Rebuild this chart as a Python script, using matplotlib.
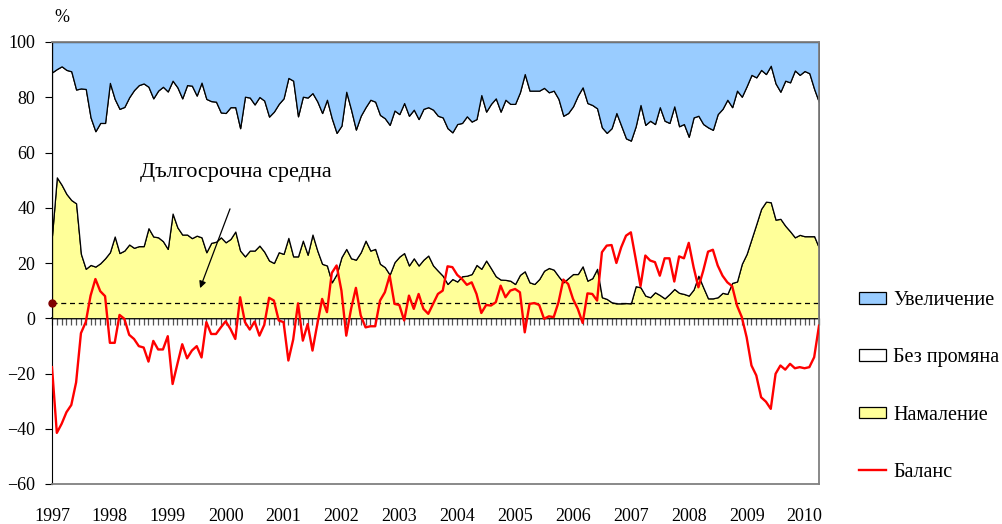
import numpy as np
import matplotlib
matplotlib.use("Agg")
import matplotlib.pyplot as plt
from matplotlib.patches import Patch
from matplotlib.lines import Line2D

plt.rcParams["font.family"] = ["Liberation Serif", "DejaVu Serif"]

# monthly data, Jan 1997 - Apr 2010 (160 months)
years = list(range(1997, 2011))

increase = [
    11.0, 9.8, 8.8, 10.1, 10.6, 17.2, 16.8, 17.0, 27.3, 32.3, 29.3, 29.3,
    14.8, 20.6, 24.2, 23.5, 20.0, 17.4, 15.6, 15.0, 16.2, 20.4, 17.6, 16.2,
    17.9, 14.0, 16.4, 20.4, 15.6, 15.8, 19.4, 14.7, 20.6, 21.4, 21.6, 25.5,
    25.7, 23.6, 23.6, 31.2, 19.8, 20.1, 22.6, 19.9, 21.2, 27.0, 25.2, 22.4,
    20.4, 13.0, 14.0, 26.9, 19.8, 20.1, 18.5, 21.5, 25.7, 20.9, 27.6, 32.9,
    30.3, 18.0, 24.5, 31.7, 26.7, 23.6, 20.9, 21.6, 26.4, 27.6, 30.0, 24.8,
    26.1, 22.1, 26.7, 24.5, 27.9, 24.2, 23.6, 24.5, 26.7, 27.3, 31.2, 32.7,
    29.7, 29.3, 26.9, 28.8, 27.9, 19.2, 25.2, 22.4, 20.4, 25.2, 20.9, 22.4,
    22.4, 18.2, 11.6, 17.6, 17.6, 17.6, 16.6, 18.2, 17.6, 20.6, 26.7, 25.7,
    23.3, 19.4, 16.4, 22.1, 22.8, 24.0, 30.9, 32.9, 31.2, 25.7, 30.3, 34.9,
    35.7, 30.5, 22.8, 30.0, 28.5, 29.7, 23.6, 28.5, 29.3, 23.3, 30.5, 29.7,
    34.3, 27.3, 26.7, 29.7, 30.9, 31.8, 26.1, 24.2, 20.9, 23.6, 17.6, 19.8,
    16.0, 11.9, 12.8, 10.1, 11.6, 8.6, 15.0, 18.0, 14.0, 14.6, 10.3, 11.9,
    10.5, 11.3, 17.0, 21.8,
]

decrease = [
    29.9, 51.0, 48.3, 45.0, 42.8, 41.6, 23.3, 17.9, 19.3, 18.7, 19.9, 21.7,
    23.9, 29.6, 23.6, 24.5, 26.7, 25.5, 26.1, 26.1, 32.6, 29.6, 29.3, 27.9,
    25.1, 37.9, 32.9, 30.3, 30.3, 29.0, 29.9, 29.3, 23.9, 27.3, 27.7, 29.3,
    27.5, 28.7, 31.4, 24.5, 22.4, 24.5, 24.5, 26.3, 24.1, 20.9, 20.0, 23.9,
    23.3, 29.1, 22.4, 22.4, 28.1, 23.0, 30.3, 24.5, 19.7, 19.1, 13.0, 16.0,
    22.1, 25.1, 21.7, 21.2, 23.9, 28.1, 24.5, 25.1, 19.7, 18.5, 15.8, 20.3,
    22.3, 23.6, 19.1, 21.7, 19.1, 21.2, 22.7, 19.1, 17.2, 15.4, 12.4, 14.2,
    13.3, 15.2, 15.4, 16.0, 19.3, 17.9, 20.9, 18.1, 15.2, 14.0, 13.9, 13.6,
    12.4, 15.7, 17.0, 13.0, 12.4, 14.2, 17.2, 18.2, 17.6, 15.2, 13.0, 14.5,
    16.0, 16.0, 18.8, 13.6, 14.5, 17.9, 7.6, 7.0, 5.8, 5.4, 5.4, 5.5,
    5.4, 11.6, 11.2, 8.2, 7.6, 9.4, 8.4, 7.2, 8.8, 10.6, 9.2, 8.8,
    8.2, 10.4, 15.4, 11.2, 7.2, 7.2, 7.6, 9.2, 8.8, 12.8, 13.3, 19.7,
    23.3, 28.7, 34.1, 39.6, 42.2, 42.0, 35.7, 36.0, 33.5, 31.5, 29.3, 30.2,
    29.7, 29.7, 29.7, 25.5,
]

balance = [
    -17.7, -41.5, -38.2, -34.0, -31.4, -23.2, -5.4, -1.4, 8.2, 14.2, 9.8, 8.0,
    -8.9, -8.9, 1.2, -0.2, -6.0, -7.5, -10.1, -10.6, -15.7, -8.2, -11.3, -11.3,
    -6.5, -23.8, -16.5, -9.4, -14.5, -11.7, -10.1, -14.2, -1.4, -5.7, -5.7, -3.3,
    -1.1, -3.9, -7.5, 7.6, -1.4, -4.1, -1.2, -6.3, -2.4, 7.4, 6.4, -0.8,
    -1.4, -15.3, -7.7, 5.4, -8.1, -2.1, -11.7, -2.1, 7.0, 2.2, 16.4, 19.1,
    10.0, -6.3, 3.4, 11.0, 1.0, -3.3, -2.9, -2.9, 6.4, 9.4, 15.4, 5.2,
    4.8, -0.8, 8.2, 3.4, 8.8, 3.4, 1.6, 5.2, 8.8, 10.0, 18.8, 18.5,
    15.7, 14.2, 12.1, 13.0, 8.8, 1.9, 4.8, 4.6, 5.8, 11.8, 7.6, 10.0,
    10.6, 9.4, -5.1, 5.2, 5.5, 4.8, -0.2, 0.7, 0.4, 5.8, 14.0, 12.4,
    7.0, 3.4, -1.7, 9.0, 8.8, 6.4, 23.9, 26.3, 26.5, 20.0, 25.7, 29.9,
    31.1, 21.5, 11.6, 22.7, 20.9, 20.3, 15.4, 21.7, 21.7, 13.3, 22.4, 21.7,
    27.3, 18.5, 11.2, 17.2, 24.1, 24.8, 19.1, 15.4, 13.0, 11.6, 4.6, 0.4,
    -6.9, -17.1, -20.7, -28.6, -30.2, -32.8, -20.1, -17.1, -18.6, -16.5, -18.1, -17.7,
    -18.1, -17.7, -14.1, -2.7,
]

long_term_avg = 5.4

x = np.arange(len(balance))
dec = np.array(decrease)
upper = 100 - np.array(increase)

fig = plt.figure(figsize=(10.02, 5.24), dpi=100)
ax = fig.add_axes([52 / 1002, 40 / 524, 767 / 1002, 442 / 524])

ax.fill_between(x, 0, dec, facecolor="#ffff99", edgecolor="black", lw=0.9, zorder=1)
ax.fill_between(x, dec, upper, facecolor="white", edgecolor="black", lw=0.9, zorder=1)
ax.fill_between(x, upper, 100, facecolor="#99ccff", edgecolor="black", lw=0.9, zorder=1)

ax.axhline(long_term_avg, color="black", lw=0.9, ls=(0, (4, 3)), zorder=2)
ax.plot([0], [long_term_avg], "o", color="#800000", ms=5, clip_on=False, zorder=5)
ax.plot(x, balance, color="red", lw=1.7, zorder=3)

ax.set_xlim(0, len(x) - 1)
ax.set_ylim(-60, 100)
ax.set_yticks(range(-60, 101, 20))
ax.tick_params(axis="y", length=5, direction="out", labelsize=13, pad=7)
ax.set_xticks(np.arange(0, len(x), 12))
ax.set_xticklabels([str(y) for y in years])
ax.tick_params(axis="x", length=0, labelsize=13, pad=17)

for s in ["top", "right", "bottom"]:
    ax.spines[s].set_color("#808080")
    ax.spines[s].set_linewidth(1.3)
ax.spines["left"].set_color("black")

# category axis crossing at zero, monthly tick marks
sec = ax.secondary_xaxis(60 / 160)
sec.set_xticks(x)
sec.set_xticklabels([])
sec.tick_params(axis="x", length=5, direction="out", color="#555555", width=0.9)
sec.spines["bottom"].set_color("black")
sec.spines["bottom"].set_linewidth(1.2)

ax.text(18.2, 52.6, "Дългосрочна средна", fontsize=16, ha="left", va="center")
ax.annotate("", xy=(30.7, 10.9), xytext=(36.9, 39.6),
            arrowprops=dict(arrowstyle="-|>", color="black", lw=0.9,
                            mutation_scale=10, shrinkA=0, shrinkB=0),
            zorder=6)

fig.text(62 / 1002, 1 - 18 / 524, "%", fontsize=13, ha="center", va="center")

handles = [
    Patch(facecolor="#99ccff", edgecolor="black", lw=0.9),
    Patch(facecolor="white", edgecolor="black", lw=0.9),
    Patch(facecolor="#ffff99", edgecolor="black", lw=0.9),
    Line2D([], [], color="red", lw=1.7),
]
labels = ["Увеличение", "Без промяна", "Намаление", "Баланс"]
fig.legend(handles, labels, loc="upper left", bbox_to_anchor=(859 / 1002, 1 - 291 / 524),
           frameon=False, fontsize=14.5, handlelength=1.35, handleheight=0.5,
           handletextpad=0.35, labelspacing=1.9, borderpad=0, borderaxespad=0)

fig.savefig("out.png", dpi=100)
